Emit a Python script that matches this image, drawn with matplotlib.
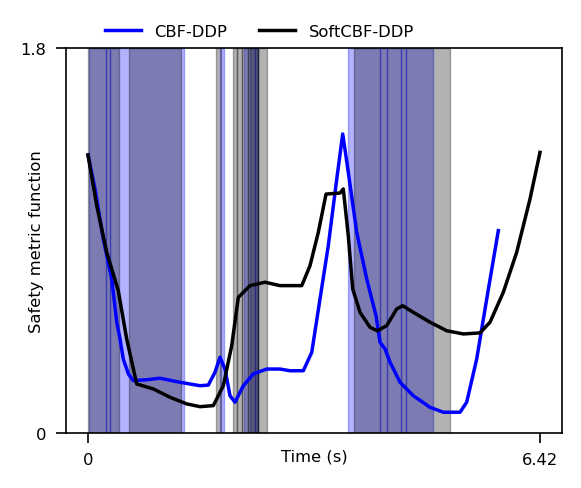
import matplotlib
matplotlib.use('Agg')
import matplotlib.pyplot as plt

# CBF-DDP safety metric (blue)
t_cbf = [0.000, 0.099, 0.217, 0.337, 0.408, 0.455, 0.501, 0.573, 0.643, 0.834,
         1.023, 1.307, 1.591, 1.709, 1.804, 1.875, 1.946, 2.017, 2.088, 2.206,
         2.348, 2.538, 2.727, 2.869, 3.058, 3.178, 3.295, 3.413, 3.533, 3.618,
         3.697, 3.817, 3.959, 4.091, 4.148, 4.219, 4.290, 4.432, 4.621, 4.858,
         5.047, 5.284, 5.379, 5.521, 5.663, 5.828]
h_cbf = [1.300, 1.141, 0.907, 0.720, 0.518, 0.439, 0.346, 0.276, 0.245, 0.249,
         0.256, 0.237, 0.221, 0.224, 0.284, 0.354, 0.299, 0.174, 0.144, 0.221,
         0.276, 0.299, 0.299, 0.291, 0.291, 0.377, 0.626, 0.876, 1.187, 1.398,
         1.219, 0.938, 0.720, 0.548, 0.424, 0.393, 0.331, 0.237, 0.174, 0.120,
         0.097, 0.097, 0.144, 0.346, 0.626, 0.946]

# SoftCBF-DDP safety metric (black)
t_soft = [0.000, 0.124, 0.266, 0.430, 0.550, 0.692, 0.928, 1.165, 1.402, 1.591,
          1.780, 1.922, 2.041, 2.135, 2.301, 2.514, 2.727, 3.036, 3.153, 3.271,
          3.381, 3.580, 3.626, 3.697, 3.760, 3.864, 4.006, 4.109, 4.243, 4.385,
          4.470, 4.621, 4.858, 5.095, 5.331, 5.568, 5.710, 5.899, 6.089, 6.278,
          6.420]
h_soft = [1.300, 1.063, 0.845, 0.665, 0.439, 0.229, 0.206, 0.167, 0.136, 0.123,
          0.128, 0.221, 0.408, 0.634, 0.689, 0.705, 0.689, 0.689, 0.782, 0.938,
          1.117, 1.122, 1.141, 0.922, 0.673, 0.564, 0.494, 0.478, 0.502, 0.580,
          0.595, 0.564, 0.518, 0.478, 0.463, 0.468, 0.518, 0.658, 0.845, 1.094,
          1.312]

# intervals where each controller is active (shaded)
spans_cbf = [(0.014, 0.256), (0.256, 0.313), (0.313, 1.357), (1.875, 1.932),
             (2.216, 2.372), (2.372, 2.415), (3.693, 4.148), (4.148, 4.247),
             (4.247, 4.446), (4.446, 4.517), (4.517, 4.901)]
spans_soft = [(-0.007, 0.440), (0.582, 1.321), (1.818, 1.889), (2.060, 2.116),
              (2.116, 2.188), (2.188, 2.273), (2.273, 2.415), (2.301, 2.415),
              (2.415, 2.543), (3.778, 5.142)]

t_end = 6.42
FS = 11.8

fig = plt.figure(figsize=(5.81, 4.89), dpi=100)
ax = fig.add_axes([0.1136, 0.1125, 0.8537, 0.7873])

for a, b in spans_cbf:
    ax.axvspan(a, b, color='b', alpha=0.3)
for a, b in spans_soft:
    ax.axvspan(a, b, color='k', alpha=0.3)

ax.plot(t_cbf, h_cbf, color='b', lw=2.5, label='CBF-DDP')
ax.plot(t_soft, h_soft, color='k', lw=2.5, label='SoftCBF-DDP')

ax.set_xlim(-0.3125, 6.7325)
ax.set_ylim(0, 1.8)
ax.set_xticks([0, t_end])
ax.set_xticklabels(['0', '6.42'])
ax.set_yticks([0, 1.8])
ax.set_yticklabels(['0', '1.8'])
ax.tick_params(labelsize=FS, length=7, width=1.2, pad=7)
for s in ax.spines.values():
    s.set_linewidth(1.2)

ax.set_xlabel('Time (s)', fontsize=FS)
ax.xaxis.set_label_coords(0.5, -0.04)
ax.set_ylabel('Safety metric function', fontsize=FS)
ax.yaxis.set_label_coords(-0.045, 0.5)

fig.legend(loc='center', bbox_to_anchor=(0.446, 0.934), ncol=2,
           frameon=False, fontsize=FS, handlelength=2.2)

plt.savefig('out.png', dpi=100)
